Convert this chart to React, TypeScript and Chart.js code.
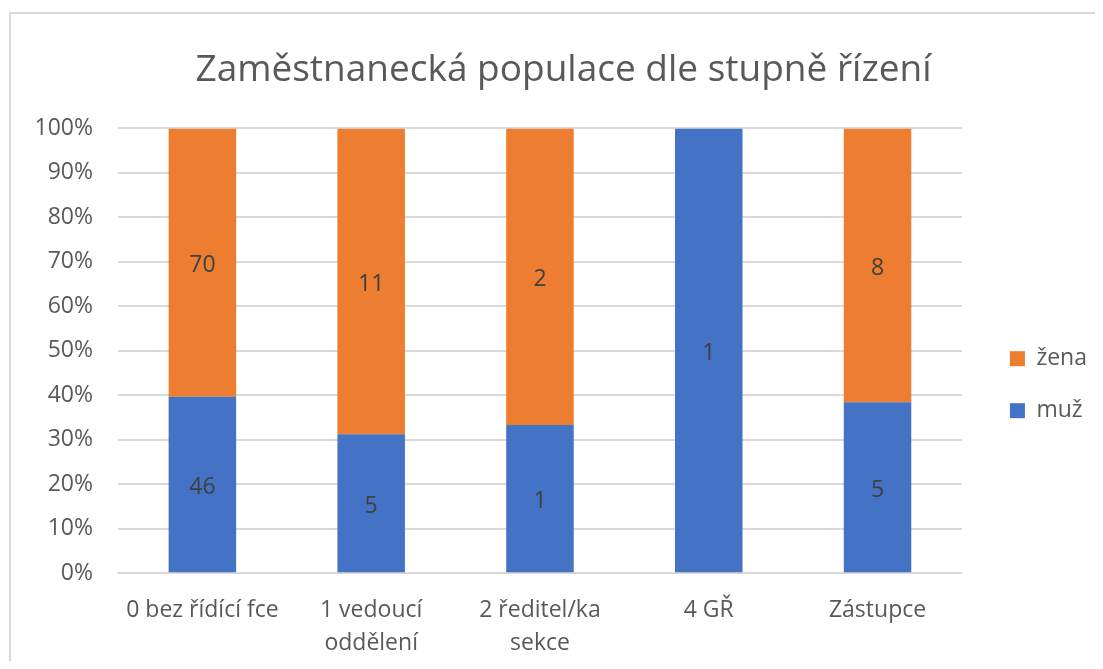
import React, { useEffect, useRef } from "react";
import { Chart, registerables } from "chart.js";

Chart.register(...registerables);

const categories: (string | string[])[] = [
  "0 bez řídící fce",
  ["1 vedoucí", "oddělení"],
  ["2 ředitel/ka", "sekce"],
  "4 GŘ",
  "Zástupce",
];
const muzCounts = [46, 5, 1, 1, 5];
const zenaCounts = [70, 11, 2, 0, 8];
const yTicks = [0, 10, 20, 30, 40, 50, 60, 70, 80, 90, 100];

const FONT = "'Open Sans', sans-serif";

const totals = muzCounts.map((m, i) => m + zenaCounts[i]);
const muzPct = muzCounts.map((m, i) => (m / totals[i]) * 100);
const zenaPct = zenaCounts.map((z, i) => (z / totals[i]) * 100);

const valueLabels = {
  id: "valueLabels",
  afterDatasetsDraw(chart: any) {
    const ctx = chart.ctx;
    ctx.save();
    ctx.font = `23px ${FONT}`;
    ctx.fillStyle = "#404040";
    ctx.textAlign = "center";
    ctx.textBaseline = "middle";
    chart.data.datasets.forEach((ds: any, di: number) => {
      const meta = chart.getDatasetMeta(di);
      meta.data.forEach((el: any, i: number) => {
        const v = ds.counts[i];
        if (!v) return;
        const p = el.getProps(["x", "y", "base"], true);
        ctx.fillText(String(v), p.x, (p.y + p.base) / 2 + 3);
      });
    });
    ctx.restore();
  },
};

export default function App() {
  const ref = useRef<HTMLCanvasElement>(null);
  useEffect(() => {
    if (!ref.current) return;
    const chart = new Chart(ref.current, {
      type: "bar",
      data: {
        labels: categories,
        datasets: [
          {
            label: "muž",
            data: muzPct,
            counts: muzCounts,
            backgroundColor: "#4472C4",
          } as any,
          {
            label: "žena",
            data: zenaPct,
            counts: zenaCounts,
            backgroundColor: "#ED7D31",
          } as any,
        ],
      },
      options: {
        animation: false,
        responsive: false,
        maintainAspectRatio: false,
        layout: { padding: { left: 19, right: 54, top: 0, bottom: 2 } },
        datasets: { bar: { barPercentage: 0.4, categoryPercentage: 1 } },
        plugins: {
          title: {
            display: true,
            text: "Zaměstnanecká populace dle stupně řízení",
            color: "#595959",
            font: { family: FONT, size: 37, weight: "normal" },
            padding: { top: 34, bottom: 36 },
          },
          legend: {
            position: "right",
            reverse: true,
            title: {
              display: true,
              text: " ",
              font: { size: 12 },
              padding: { top: 0, bottom: 50 },
            },
            labels: {
              color: "#595959",
              font: { family: FONT, size: 23, lineHeight: 4 / 23 },
              boxWidth: 15,
              boxHeight: 15,
              padding: 48,
              generateLabels: (chart: any) =>
                Chart.defaults.plugins.legend.labels
                  .generateLabels(chart)
                  .map((it: any) => ({ ...it, text: [it.text] })),
            },
          },
          tooltip: { enabled: false },
        },
        scales: {
          x: {
            stacked: true,
            grid: { display: false },
            border: { display: true, color: "#d9d9d9", width: 2 },
            ticks: {
              color: "#595959",
              font: { family: FONT, size: 23, lineHeight: 1.45 },
              maxRotation: 0,
              autoSkip: false,
              padding: 12,
            },
          },
          y: {
            stacked: true,
            min: 0,
            max: 100,
            border: { display: false },
            grid: { color: "#d9d9d9", lineWidth: 2, drawTicks: false },
            afterBuildTicks: (axis: any) => {
              axis.ticks = yTicks.map((v) => ({ value: v }));
            },
            afterFit: (axis: any) => {
              axis.width = 88;
            },
            ticks: {
              color: "#595959",
              font: { family: FONT, size: 23 },
              padding: 25,
              callback: (v: any) => `${v}%`,
            },
          },
        },
      },
      plugins: [valueLabels],
    });
    return () => chart.destroy();
  }, []);

  return (
    <div style={{ width: 1095, height: 661, marginBottom: -8, overflow: "hidden" }}>
      <div
        style={{
          marginLeft: 1,
          marginTop: 4,
          width: 1200,
          height: 720,
          border: "2px solid #d9d9d9",
          boxSizing: "border-box",
          background: "#fff",
        }}
      >
        <canvas ref={ref} width={1140} height={660} style={{ display: "block" }} />
      </div>
    </div>
  );
}
